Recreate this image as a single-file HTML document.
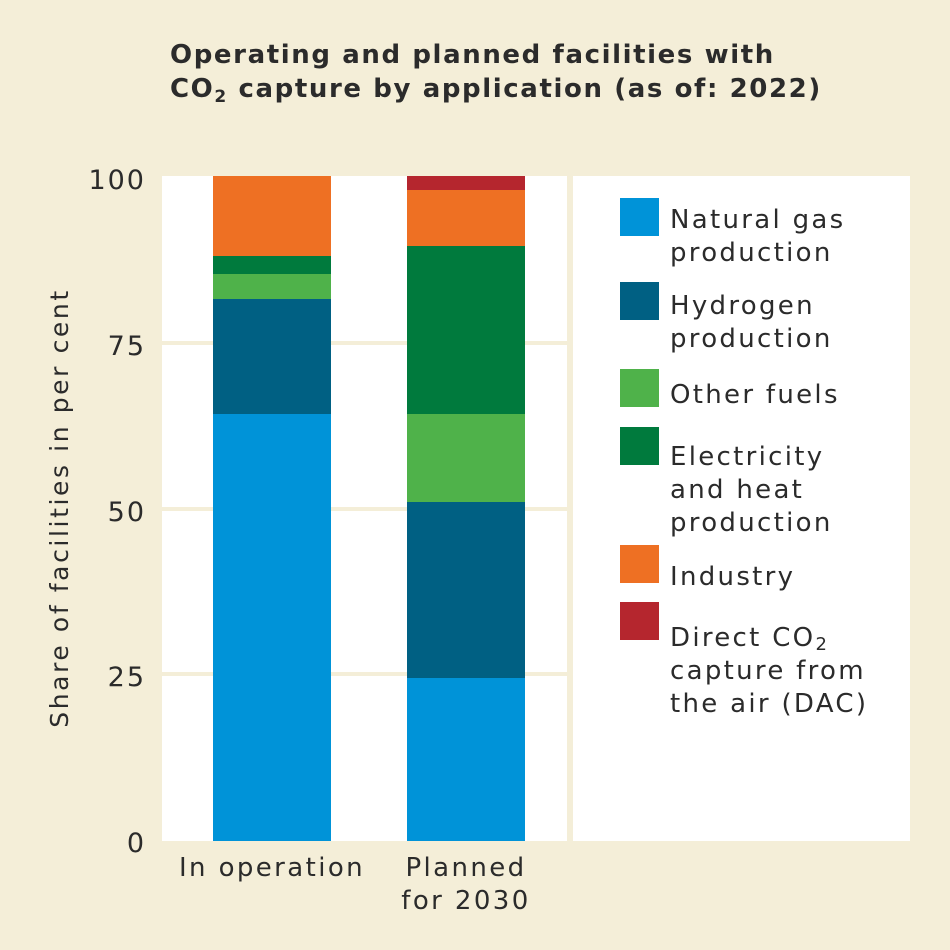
<!DOCTYPE html>
<html><head><meta charset="utf-8"><style>
html,body{margin:0;padding:0;background:#f4eed8;}
svg{display:block;font-family:"DejaVu Sans","Liberation Sans",sans-serif;}
</style></head><body>
<svg width="950" height="950" viewBox="0 0 950 950">
<rect width="950" height="950" fill="#f4eed8"/>
<text x="170" y="63" font-size="26" font-weight="bold" letter-spacing="1.6" fill="#2b2b2b">Operating and planned facilities with</text>
<text x="170" y="97" font-size="26" font-weight="bold" letter-spacing="1.6" fill="#2b2b2b">CO<tspan font-size="17" dy="5">2</tspan><tspan dy="-5"> capture by application (as of: 2022)</tspan></text>
<rect x="162" y="176" width="748" height="665" fill="#fff"/>
<g fill="#f4eed8">
<rect x="152" y="341" width="415" height="4"/>
<rect x="152" y="507" width="415" height="4"/>
<rect x="152" y="672" width="415" height="4"/>
<rect x="152" y="174" width="10" height="4"/>
<rect x="152" y="838" width="10" height="4"/>
<rect x="567" y="176" width="6" height="665"/>
</g>
<g>
<rect x="213" y="414" width="118" height="427" fill="#0093d8"/>
<rect x="213" y="299" width="118" height="115" fill="#006083"/>
<rect x="213" y="274" width="118" height="25" fill="#4fb24a"/>
<rect x="213" y="256" width="118" height="18" fill="#007a3d"/>
<rect x="213" y="176" width="118" height="80" fill="#ee7023"/>
<rect x="407" y="678" width="118" height="163" fill="#0093d8"/>
<rect x="407" y="502" width="118" height="176" fill="#006083"/>
<rect x="407" y="414" width="118" height="88" fill="#4fb24a"/>
<rect x="407" y="246" width="118" height="168" fill="#007a3d"/>
<rect x="407" y="190" width="118" height="56" fill="#ee7023"/>
<rect x="407" y="176" width="118" height="14" fill="#b5262e"/>
</g>
<g font-size="27" fill="#2b2b2b" text-anchor="end" letter-spacing="2">
<text x="146" y="189">100</text>
<text x="146" y="355">75</text>
<text x="146" y="521">50</text>
<text x="146" y="686">25</text>
<text x="146" y="852">0</text>
</g>
<text transform="translate(68,508) rotate(-90)" font-size="25" letter-spacing="2.6" text-anchor="middle" fill="#2b2b2b">Share of facilities in per cent</text>
<g font-size="26" fill="#2b2b2b" text-anchor="middle" letter-spacing="2.4">
<text x="272" y="876">In operation</text>
<text x="466" y="876">Planned</text>
<text x="466" y="909">for 2030</text>
</g>
<g>
<rect x="620" y="198" width="39" height="38" fill="#0093d8"/>
<rect x="620" y="282" width="39" height="38" fill="#006083"/>
<rect x="620" y="369" width="39" height="38" fill="#4fb24a"/>
<rect x="620" y="427" width="39" height="38" fill="#007a3d"/>
<rect x="620" y="545" width="39" height="38" fill="#ee7023"/>
<rect x="620" y="602" width="39" height="38" fill="#b5262e"/>
</g>
<g font-size="26" fill="#2b2b2b" letter-spacing="2.3">
<text x="670" y="228">Natural gas</text>
<text x="670" y="261">production</text>
<text x="670" y="314">Hydrogen</text>
<text x="670" y="347">production</text>
<text x="670" y="403">Other fuels</text>
<text x="670" y="465">Electricity</text>
<text x="670" y="498">and heat</text>
<text x="670" y="531">production</text>
<text x="670" y="585">Industry</text>
<text x="670" y="646">Direct CO<tspan font-size="18" dy="4">2</tspan></text>
<text x="670" y="679">capture from</text>
<text x="670" y="712">the air (DAC)</text>
</g>
</svg>
</body></html>
